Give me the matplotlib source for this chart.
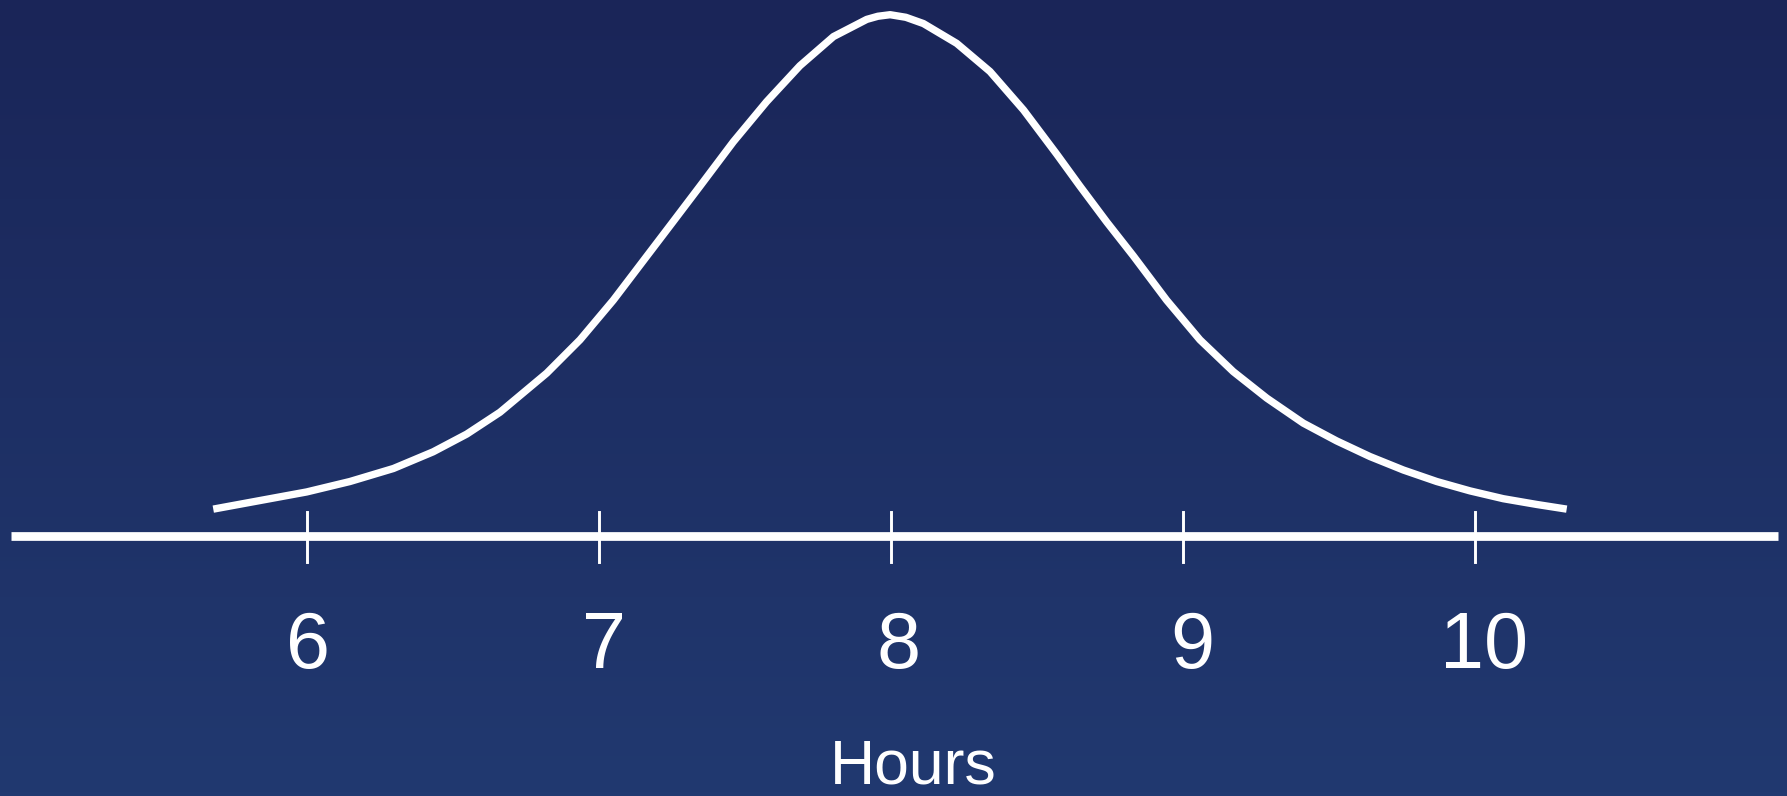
import numpy as np
import matplotlib
matplotlib.use("Agg")
import matplotlib.pyplot as plt

# curve (hours, relative height with peak = 1)
hours = [5.679, 5.805, 5.999, 6.147, 6.296, 6.432, 6.547, 6.661, 6.821, 6.935,
         7.049, 7.163, 7.254, 7.346, 7.460, 7.574, 7.688, 7.803, 7.917, 7.955,
         7.997, 8.051, 8.111, 8.225, 8.339, 8.454, 8.568, 8.647, 8.739, 8.830,
         8.944, 9.058, 9.172, 9.287, 9.412, 9.526, 9.640, 9.755, 9.869, 9.983,
         10.097, 10.211, 10.314]
height = [0.051, 0.064, 0.084, 0.104, 0.129, 0.161, 0.195, 0.237, 0.312, 0.376,
          0.452, 0.536, 0.603, 0.671, 0.756, 0.833, 0.902, 0.958, 0.991, 0.997,
          1.000, 0.995, 0.983, 0.945, 0.891, 0.817, 0.732, 0.671, 0.602, 0.537,
          0.452, 0.376, 0.315, 0.264, 0.216, 0.182, 0.152, 0.126, 0.104, 0.086,
          0.071, 0.060, 0.051]

tick_values = [6, 7, 8, 9, 10]
tick_labels = ["6", "7", "8", "9", "10"]
x_label = "Hours"

font = ["Liberation Sans", "DejaVu Sans"]

fig = plt.figure(figsize=(17.87, 7.96), dpi=100)
ax = fig.add_axes([0, 0, 1, 1])
px_per_hour = 292
x0, x1 = 6 - 307 / px_per_hour, 6 + (1787 - 307) / px_per_hour
y0, y1 = -(796 - 535.7) / 521, 535.7 / 521
ax.set_xlim(x0, x1)
ax.set_ylim(y0, y1)
ax.axis("off")

# navy background, a bit lighter towards the bottom
top = np.array([0x1a, 0x25, 0x58]) / 255
bot = np.array([0x21, 0x39, 0x70]) / 255
t = np.linspace(0, 1, 200)[:, None]
grad = top[None, :] * (1 - t) + bot[None, :] * t
grad = np.repeat(grad[:, None, :], 2, axis=1)
ax.imshow(grad, extent=[x0, x1, y0, y1], aspect="auto", origin="upper", zorder=0)

# baseline
ax.plot([x0 + 10.7 / px_per_hour, x0 + 1778 / px_per_hour], [0, 0],
        color="white", lw=6.3, solid_capstyle="butt", zorder=2)

# ticks and labels (labels sit slightly right of their ticks in the original)
label_nudge = [0.003, 0.017, 0.027, 0.031, 0.031]
for v, lab, dx in zip(tick_values, tick_labels, label_nudge):
    ax.plot([v, v], [0.045, -0.051], color="white", lw=2.1, zorder=2)
    ax.text(v + dx, -0.214, lab, color="white", fontsize=57, family=font,
            ha="center", va="center", zorder=3)

ax.text(8.0 + 22 / px_per_hour, -0.443, x_label, color="white", fontsize=45,
        family=font, ha="center", va="center", zorder=3)

# bell curve
ax.plot(hours, height, color="white", lw=5.3, solid_capstyle="butt",
        solid_joinstyle="round", zorder=3)

fig.savefig("out.png", dpi=100)
